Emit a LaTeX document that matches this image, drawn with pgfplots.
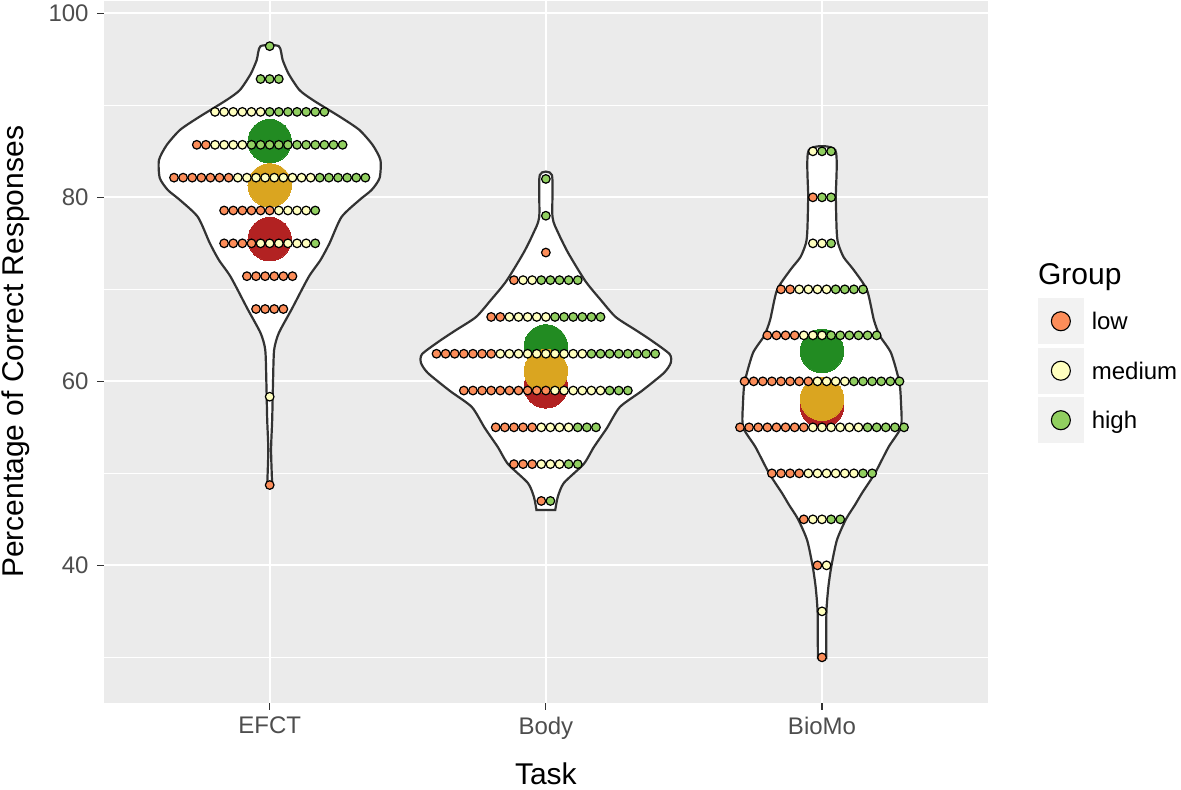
\documentclass[border=0pt]{standalone}
\usepackage{fontspec}
\setmainfont{Liberation Sans}
\usepackage{pgfplots}
\pgfplotsset{compat=1.18}

\definecolor{panel}{HTML}{EBEBEB}
\definecolor{keybg}{HTML}{F2F2F2}
\definecolor{g20}{HTML}{333333}
\definecolor{g30}{HTML}{4D4D4D}
\definecolor{lowc}{HTML}{FC8D59}
\definecolor{medc}{HTML}{FFFFBF}
\definecolor{highc}{HTML}{91CF60}
\definecolor{mlow}{HTML}{B22222}
\definecolor{mmed}{HTML}{DAA520}
\definecolor{mhigh}{HTML}{228B22}

\newcommand{\ticksize}{\fontsize{12}{14}\selectfont}
\newcommand{\titlesize}{\fontsize{15}{17}\selectfont}

\begin{document}
\begin{tikzpicture}
\begin{axis}[
  width=441.85pt, height=350.85pt, scale only axis,
  xmin=0.4, xmax=3.6, ymin=25.07, ymax=101.34,
  clip=false,
  axis background/.style={fill=panel},
  axis line style={draw=none},
  xtick={1,2,3}, xticklabels={EFCT,Body,BioMo},
  ytick={40,60,80,100}, minor ytick={30,50,70,90},
  xmajorgrids, ymajorgrids, yminorgrids,
  major grid style={white, line width=1.1pt},
  minor grid style={white, line width=0.55pt},
  tick align=outside, tick pos=left,
  major tick length=3.5pt, minor tick length=0pt,
  tick style={g20, line width=0.55pt},
  /pgf/number format/assume math mode=true,
  xticklabel style={font=\ticksize, text=g30, inner sep=0pt, yshift=-3.5pt},
  yticklabel style={font=\ticksize, text=g30, inner sep=0pt, xshift=-4pt},
  xlabel={Task},
  xlabel style={at={(axis description cs:0.5,-0.1159)}, anchor=base, font=\titlesize, inner sep=0pt},
  ylabel={Percentage of Correct Responses},
  ylabel style={at={(axis description cs:-0.0996,0.5)}, anchor=center, font=\titlesize, inner sep=0pt},
  legend style={at={(axis description cs:1.0566,0.5763)}, anchor=north west,
    draw=none, fill=none, inner sep=0pt, outer sep=0pt,
    row sep=1.85pt, column sep=3.9pt,
    cells={anchor=base west},
    nodes={inner sep=0pt, font=\ticksize, text=black}},
  dots/.style={only marks, mark=*, mark size=2.15pt,
    mark options={draw=black, fill=#1, line width=0.6pt},
    legend image code/.code={\fill[keybg] (0pt,-6.95pt) rectangle (22.75pt,15.55pt);
      \draw[black, line width=0.55pt, fill=#1] (11.375pt,4.3pt) circle (4.75pt);}},
  means/.style={forget plot, only marks, mark=*, mark size=10.85pt, color=#1,
    mark options={draw=#1, fill=#1, line width=0pt}},
  violin/.style={forget plot, fill=white, draw=g20, line width=1.1pt, smooth, tension=0.4},
]

% violins
\addplot[violin]
  table[row sep=\\, x expr=1+\thisrow{w}, y=y] {
  y w\\
  48.73 0.009\\ 52.53 0.005\\ 55.79 0.009\\ 59.82 0.012\\ 63.40 0.016\\ 65.25 0.033\\
  67.86 0.080\\ 71.34 0.141\\ 73.19 0.184\\ 75.03 0.217\\ 77.86 0.260\\ 79.71 0.325\\
  80.80 0.369\\ 82.10 0.398\\ 84.05 0.401\\ 85.68 0.373\\ 87.32 0.325\\ 88.65 0.260\\
  90.58 0.156\\ 91.66 0.108\\ 93.40 0.069\\ 94.92 0.047\\ 96.43 0.033\\
  96.43 -0.033\\ 94.92 -0.047\\ 93.40 -0.069\\ 91.66 -0.108\\ 90.58 -0.156\\
  88.65 -0.260\\ 87.32 -0.325\\ 85.68 -0.373\\ 84.05 -0.401\\ 82.10 -0.398\\
  80.80 -0.369\\ 79.71 -0.325\\ 77.86 -0.260\\ 75.03 -0.217\\ 73.19 -0.184\\
  71.34 -0.141\\ 67.86 -0.080\\ 65.25 -0.033\\ 63.40 -0.016\\ 59.82 -0.012\\
  55.79 -0.009\\ 52.53 -0.005\\ 48.73 -0.009\\
  } -- cycle;

\addplot[violin]
  table[row sep=\\, x expr=2+\thisrow{w}, y=y] {
  y w\\
  46.01 0.034\\ 47.42 0.043\\ 48.95 0.065\\ 51.01 0.137\\ 52.86 0.174\\ 54.92 0.221\\
  57.21 0.268\\ 58.95 0.347\\ 60.90 0.427\\ 61.99 0.452\\ 62.97 0.448\\ 64.49 0.380\\
  65.58 0.325\\ 66.99 0.253\\ 68.84 0.199\\ 70.90 0.143\\ 73.95 0.081\\ 76.12 0.045\\
  77.86 0.024\\ 82.42 0.022\\
  82.42 -0.022\\ 77.86 -0.024\\ 76.12 -0.045\\ 73.95 -0.081\\ 70.90 -0.143\\
  68.84 -0.199\\ 66.99 -0.253\\ 65.58 -0.325\\ 64.49 -0.380\\ 62.97 -0.448\\
  61.99 -0.452\\ 60.90 -0.427\\ 58.95 -0.347\\ 57.21 -0.268\\ 54.92 -0.221\\
  52.86 -0.174\\ 51.01 -0.137\\ 48.95 -0.065\\ 47.42 -0.043\\ 46.01 -0.034\\
  } -- cycle;

\addplot[violin]
  table[row sep=\\, x expr=3+\thisrow{w}, y=y] {
  y w\\
  29.90 0.015\\ 34.92 0.016\\ 37.64 0.023\\ 39.93 0.034\\ 42.75 0.054\\ 45.03 0.087\\
  46.55 0.119\\ 47.86 0.145\\ 50.03 0.192\\ 52.86 0.241\\ 55.03 0.286\\ 57.64 0.286\\
  59.92 0.280\\ 63.08 0.250\\ 64.92 0.210\\ 66.66 0.188\\ 69.92 0.163\\ 72.10 0.115\\
  73.51 0.078\\ 75.03 0.058\\ 76.45 0.053\\ 80.03 0.050\\ 85.14 0.048\\
  85.14 -0.048\\ 80.03 -0.050\\ 76.45 -0.053\\ 75.03 -0.058\\ 73.51 -0.078\\
  72.10 -0.115\\ 69.92 -0.163\\ 66.66 -0.188\\ 64.92 -0.210\\ 63.08 -0.250\\
  59.92 -0.280\\ 57.64 -0.286\\ 55.03 -0.286\\ 52.86 -0.241\\ 50.03 -0.192\\
  47.86 -0.145\\ 46.55 -0.119\\ 45.03 -0.087\\ 42.75 -0.054\\ 39.93 -0.034\\
  37.64 -0.023\\ 34.92 -0.016\\ 29.90 -0.015\\
  } -- cycle;

% group means
\addplot[means=mlow] coordinates {(1,75.45) (2,59.45) (3,57.3)};
\addplot[means=mhigh] coordinates {(1,86.1) (2,63.8) (3,63.3)};
\addplot[means=mmed] coordinates {(1,81.3) (2,61.1) (3,58.1)};

% dots: t = task, k = slot in the stack (spacing 0.033)
\addplot[dots=lowc]
  table[row sep=\\, x expr=\thisrow{t}+0.033*\thisrow{k}, y=y] {
  t y k\\
  1 85.71 -8\\ 1 85.71 -7\\
  1 82.14 -10.5\\ 1 82.14 -9.5\\ 1 82.14 -8.5\\ 1 82.14 -7.5\\ 1 82.14 -6.5\\ 1 82.14 -5.5\\ 1 82.14 -4.5\\
  1 78.57 -5\\ 1 78.57 -4\\ 1 78.57 -3\\ 1 78.57 -2\\ 1 78.57 -1\\ 1 78.57 0\\
  1 75 -5\\ 1 75 -4\\ 1 75 -3\\ 1 75 -2\\
  1 71.43 -2.5\\ 1 71.43 -1.5\\ 1 71.43 -0.5\\ 1 71.43 0.5\\ 1 71.43 1.5\\ 1 71.43 2.5\\
  1 67.86 -1.5\\ 1 67.86 -0.5\\ 1 67.86 0.5\\ 1 67.86 1.5\\
  1 48.73 0\\
  2 74 0\\ 2 71 -3.5\\ 2 67 -6\\ 2 67 -5\\
  2 63 -12\\ 2 63 -11\\ 2 63 -10\\ 2 63 -9\\ 2 63 -8\\ 2 63 -7\\ 2 63 -6\\
  2 59 -9\\ 2 59 -8\\ 2 59 -7\\ 2 59 -6\\ 2 59 -5\\ 2 59 -4\\ 2 59 -3\\ 2 59 -2\\ 2 59 -1\\ 2 59 0\\
  2 55 -5.5\\ 2 55 -4.5\\ 2 55 -3.5\\ 2 55 -2.5\\ 2 55 -1.5\\
  2 51 -3.5\\ 2 51 -2.5\\ 2 51 -1.5\\
  2 47 -0.5\\
  3 80 -1\\ 3 70 -4.5\\ 3 70 -3.5\\
  3 65 -6\\ 3 65 -5\\ 3 65 -4\\ 3 65 -3\\
  3 60 -8.5\\ 3 60 -7.5\\ 3 60 -6.5\\ 3 60 -5.5\\ 3 60 -4.5\\ 3 60 -3.5\\ 3 60 -2.5\\ 3 60 -1.5\\
  3 55 -9\\ 3 55 -8\\ 3 55 -7\\ 3 55 -6\\ 3 55 -5\\ 3 55 -4\\ 3 55 -3\\ 3 55 -2\\
  3 50 -5.5\\ 3 50 -4.5\\ 3 50 -3.5\\ 3 50 -2.5\\
  3 45 -2\\ 3 40 -0.5\\ 3 30 0\\
  };

\addplot[dots=medc]
  table[row sep=\\, x expr=\thisrow{t}+0.033*\thisrow{k}, y=y] {
  t y k\\
  1 89.29 -6\\ 1 89.29 -5\\ 1 89.29 -4\\ 1 89.29 -3\\ 1 89.29 -2\\ 1 89.29 -1\\
  1 85.71 -6\\ 1 85.71 -5\\ 1 85.71 -4\\ 1 85.71 -3\\
  1 82.14 -3.5\\ 1 82.14 -2.5\\ 1 82.14 -1.5\\ 1 82.14 -0.5\\ 1 82.14 0.5\\ 1 82.14 1.5\\ 1 82.14 2.5\\ 1 82.14 3.5\\ 1 82.14 4.5\\
  1 78.57 1\\ 1 78.57 2\\ 1 78.57 3\\ 1 78.57 4\\
  1 75 -1\\ 1 75 0\\ 1 75 1\\ 1 75 2\\ 1 75 3\\ 1 75 4\\
  1 58.33 0\\
  2 71 -2.5\\ 2 71 -1.5\\
  2 67 -4\\ 2 67 -3\\ 2 67 -2\\ 2 67 -1\\ 2 67 0\\
  2 63 -5\\ 2 63 -4\\ 2 63 -3\\ 2 63 -2\\ 2 63 -1\\ 2 63 0\\ 2 63 1\\ 2 63 2\\ 2 63 3\\ 2 63 4\\
  2 59 1\\ 2 59 2\\ 2 59 3\\ 2 59 4\\ 2 59 5\\ 2 59 6\\
  2 55 -0.5\\ 2 55 0.5\\ 2 55 1.5\\ 2 55 2.5\\
  2 51 -0.5\\ 2 51 0.5\\ 2 51 1.5\\
  3 85 -1\\ 3 75 -1\\ 3 75 0\\
  3 70 -2.5\\ 3 70 -1.5\\ 3 70 -0.5\\ 3 70 0.5\\
  3 65 -2\\ 3 65 -1\\ 3 65 0\\
  3 60 -0.5\\ 3 60 0.5\\ 3 60 1.5\\ 3 60 2.5\\
  3 55 -1\\ 3 55 0\\ 3 55 1\\ 3 55 2\\ 3 55 3\\ 3 55 4\\
  3 50 -1.5\\ 3 50 -0.5\\ 3 50 0.5\\ 3 50 1.5\\ 3 50 2.5\\ 3 50 3.5\\
  3 45 -1\\ 3 45 0\\ 3 40 0.5\\ 3 35 0\\
  };

\addplot[dots=highc]
  table[row sep=\\, x expr=\thisrow{t}+0.033*\thisrow{k}, y=y] {
  t y k\\
  1 96.43 0\\ 1 92.86 -1\\ 1 92.86 0\\ 1 92.86 1\\
  1 89.29 0\\ 1 89.29 1\\ 1 89.29 2\\ 1 89.29 3\\ 1 89.29 4\\ 1 89.29 5\\ 1 89.29 6\\
  1 85.71 -2\\ 1 85.71 -1\\ 1 85.71 0\\ 1 85.71 1\\ 1 85.71 2\\ 1 85.71 3\\ 1 85.71 4\\ 1 85.71 5\\ 1 85.71 6\\ 1 85.71 7\\ 1 85.71 8\\
  1 82.14 5.5\\ 1 82.14 6.5\\ 1 82.14 7.5\\ 1 82.14 8.5\\ 1 82.14 9.5\\ 1 82.14 10.5\\
  1 78.57 5\\ 1 75 5\\
  2 82 0\\ 2 78 0\\
  2 71 -0.5\\ 2 71 0.5\\ 2 71 1.5\\ 2 71 2.5\\ 2 71 3.5\\
  2 67 1\\ 2 67 2\\ 2 67 3\\ 2 67 4\\ 2 67 5\\ 2 67 6\\
  2 63 5\\ 2 63 6\\ 2 63 7\\ 2 63 8\\ 2 63 9\\ 2 63 10\\ 2 63 11\\ 2 63 12\\
  2 59 7\\ 2 59 8\\ 2 59 9\\
  2 55 3.5\\ 2 55 4.5\\ 2 55 5.5\\
  2 51 2.5\\ 2 51 3.5\\ 2 47 0.5\\
  3 85 0\\ 3 85 1\\ 3 80 0\\ 3 80 1\\ 3 75 1\\
  3 70 1.5\\ 3 70 2.5\\ 3 70 3.5\\ 3 70 4.5\\
  3 65 1\\ 3 65 2\\ 3 65 3\\ 3 65 4\\ 3 65 5\\ 3 65 6\\
  3 60 3.5\\ 3 60 4.5\\ 3 60 5.5\\ 3 60 6.5\\ 3 60 7.5\\ 3 60 8.5\\
  3 55 5\\ 3 55 6\\ 3 55 7\\ 3 55 8\\ 3 55 9\\
  3 50 4.5\\ 3 50 5.5\\
  3 45 1\\ 3 45 2\\
  };

\legend{low,medium,high}

\node[anchor=base west, inner sep=0pt, font=\titlesize] at (axis description cs:1.0566,0.5963) {Group};
\coordinate (sw) at (rel axis cs:0,0);
\end{axis}
\pgfresetboundingbox
\path ([shift={(-52pt,-43.15pt)}]sw) rectangle ([shift={(538.5pt,351.35pt)}]sw);
\end{tikzpicture}
\end{document}
